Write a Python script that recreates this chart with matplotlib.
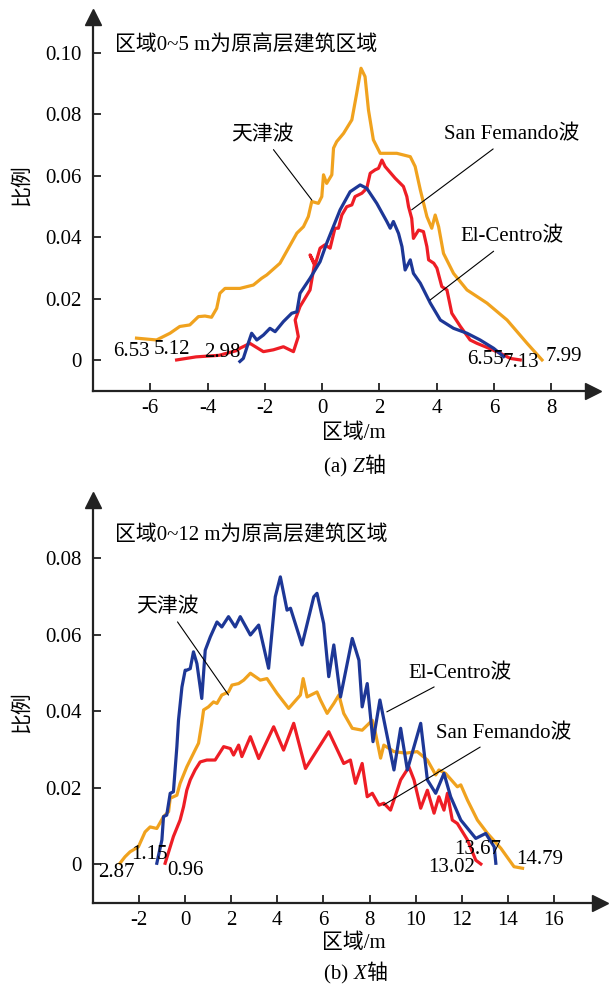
import matplotlib
matplotlib.use("Agg")
import matplotlib.pyplot as plt

plt.rcParams['font.family'] = ['Liberation Serif', 'Noto Sans CJK SC']
plt.rcParams['axes.unicode_minus'] = False

ORANGE = '#F0A21E'
RED = '#EE1D25'
BLUE = '#1D3796'

# ---- (a) Z axis ----
z_tj_x = [-6.48, -5.78, -5.31, -4.97, -4.62, -4.32, -4.09, -3.86, -3.68, -3.57, -3.39, -2.87, -2.40, -2.11,
          -1.93, -1.47, -0.88, -0.65, -0.48, -0.36, -0.13, -0.01, 0.05, 0.16, 0.34, 0.40, 0.51, 0.75, 1.04,
          1.21, 1.36, 1.50, 1.62, 1.79, 2.03, 2.61, 3.08, 3.25, 3.43, 3.66, 3.83, 3.95, 4.07, 4.24, 4.59,
          5.06, 5.76, 6.46, 7.16, 7.68]
z_tj_y = [.0071, .0065, .0087, .0109, .0114, .0141, .0143, .0139, .0168, .0217, .0233, .0233, .0244, .0266,
          .0277, .0315, .0413, .0434, .0467, .0516, .0510, .0532, .0603, .0575, .0603, .0690, .0711, .0738,
          .0782, .0869, .0950, .0923, .0814, .0717, .0673, .0673, .0662, .0630, .0554, .0467, .0429, .0472,
          .0434, .0347, .0282, .0228, .0185, .0130, .0054, .0]

z_sf_x = [-5.08, -4.4, -3.6, -3.0, -2.87, -2.52, -2.05, -1.70, -1.35, -1.00, -0.83, -0.94, -0.77, -0.42,
          -0.32, -0.27, -0.42, -0.24, -0.07, 0.10, 0.28, 0.45, 0.57, 0.69, 0.86, 1.04, 1.15, 1.39, 1.56,
          1.68, 1.85, 1.97, 2.09, 2.20, 2.55, 2.84, 2.96, 3.02, 3.13, 3.19, 3.37, 3.54, 3.66, 3.72, 3.90,
          4.01, 4.18, 4.36, 4.53, 4.83, 5.17, 5.41, 5.70, 6.22, 6.57, 6.92]
z_sf_y = [0, .0010, .0015, .0030, .0038, .0054, .0027, .0033, .0043, .0027, .0076, .0130, .0174, .0228,
          .0282, .0310, .0342, .0310, .0364, .0375, .0364, .0429, .0429, .0472, .0499, .0505, .0532, .0543,
          .0559, .0608, .0619, .0624, .0651, .0630, .0592, .0565, .0532, .0499, .0461, .0396, .0423, .0418,
          .0369, .0326, .0315, .0299, .0239, .0228, .0152, .0109, .0065, .0054, .0043, .0022, .0005, 0]

z_ec_x = [-2.87, -2.75, -2.58, -2.46, -2.28, -2.05, -1.82, -1.64, -1.35, -1.06, -0.88, -0.77, -0.42, -0.07,
          0.16, 0.63, 0.98, 1.33, 1.56, 1.91, 2.26, 2.38, 2.49, 2.67, 2.79, 2.90, 3.08, 3.19, 3.43, 3.78,
          4.13, 4.59, 5.06, 5.52, 5.99, 6.34]
z_ec_y = [-.0005, .0005, .0054, .0087, .0065, .0081, .0103, .0092, .0125, .0152, .0157, .0217, .0266, .0320,
          .0380, .0489, .0548, .0570, .0559, .0510, .0451, .0429, .0451, .0412, .0369, .0293, .0326, .0282,
          .0250, .0185, .0130, .0103, .0087, .0065, .0038, .0011]

z_xticks = [-6, -4, -2, 0, 2, 4, 6, 8]
z_yticks = [0, 0.02, 0.04, 0.06, 0.08, 0.10]
z_yticklabels = ['0', '0.02', '0.04', '0.06', '0.08', '0.10']
z_end_labels = [('6.53', -6.67, 0.0026), ('5.12', -5.24, 0.0033), ('2.98', -3.49, 0.0023),
                ('6.55', 5.69, 0.0), ('7.13', 6.95, -0.0007), ('7.99', 8.45, 0.0010)]

# ---- (b) X axis ----
x_tj_x = [-2.83, -2.61, -2.39, -2.03, -1.74, -1.52, -1.23, -0.94, -0.72, -0.65, -0.36, -0.22, 0.07, 0.43,
          0.58, 0.72, 0.80, 1.01, 1.23, 1.38, 1.59, 1.88, 2.03, 2.32, 2.54, 2.83, 3.26, 3.55, 3.99, 4.49,
          5.00, 5.12, 5.29, 5.72, 5.87, 6.16, 6.45, 6.67, 6.88, 7.25, 7.68, 8.12, 8.26, 8.48, 8.62, 9.06,
          9.57, 10.07, 10.51, 10.87, 11.01, 11.30, 11.81, 11.96, 12.25, 12.68, 13.12, 13.70, 14.27, 14.64]
x_tj_y = [.0002, .0019, .0032, .0045, .0084, .0097, .0093, .0124, .0137, .0172, .0180, .0211, .0254, .0298,
          .0316, .0368, .0403, .0411, .0424, .0420, .0442, .0450, .0468, .0472, .0481, .0499, .0481, .0485,
          .0446, .0407, .0442, .0485, .0437, .0450, .0429, .0394, .0420, .0442, .0394, .0355, .0350, .0376,
          .0342, .0277, .0311, .0294, .0290, .0294, .0272, .0233, .0246, .0237, .0202, .0207, .0167, .0115,
          .0080, .0041, -.0007, -.0011]

x_ec_x = [-1.23, -1.01, -0.94, -0.80, -0.65, -0.51, -0.36, -0.29, -0.14, 0.0, 0.07, 0.22, 0.36, 0.51, 0.72,
          0.87, 1.09, 1.38, 1.59, 1.88, 2.17, 2.39, 2.83, 3.19, 3.62, 3.91, 4.13, 4.42, 4.57, 5.07, 5.58,
          5.72, 6.01, 6.23, 6.45, 6.74, 7.25, 7.54, 7.68, 7.90, 8.15, 8.45, 9.06, 9.35, 9.64, 10.22, 10.51,
          10.87, 11.23, 11.52, 11.96, 12.61, 13.04, 13.41, 13.48]
x_ec_y = [.0002, .0063, .0124, .0128, .0185, .0189, .0307, .0376, .0463, .0507, .0507, .0511, .0555, .0524,
          .0433, .0559, .0594, .0633, .0620, .0647, .0620, .0647, .0599, .0625, .0512, .0699, .0751, .0664,
          .0669, .0573, .0699, .0708, .0629, .0490, .0573, .0437, .0590, .0533, .0411, .0472, .0320, .0429,
          .0246, .0355, .0246, .0368, .0220, .0185, .0237, .0176, .0115, .0067, .0080, .0045, .0002]

x_sf_x = [-0.87, -0.51, -0.22, -0.07, 0.07, 0.22, 0.43, 0.65, 0.94, 1.30, 1.67, 1.96, 2.10, 2.32, 2.46, 2.83,
          3.19, 3.84, 4.27, 4.71, 5.22, 6.23, 6.88, 7.17, 7.39, 7.68, 7.90, 8.12, 8.41, 8.62, 8.91, 9.35,
          9.71, 9.93, 10.22, 10.51, 10.80, 11.01, 11.23, 11.38, 11.59, 11.81, 12.25, 12.61, 12.83]
x_sf_y = [.0002, .0072, .0115, .0150, .0193, .0220, .0246, .0267, .0272, .0272, .0307, .0302, .0285, .0311,
          .0281, .0333, .0276, .0359, .0298, .0368, .0250, .0346, .0263, .0272, .0211, .0263, .0176, .0185,
          .0154, .0159, .0141, .0220, .0254, .0220, .0146, .0193, .0133, .0176, .0141, .0185, .0115, .0106,
          .0063, .0010, 0]

x_xticks = [-2, 0, 2, 4, 6, 8, 10, 12, 14, 16]
x_yticks = [0, 0.02, 0.04, 0.06, 0.08]
x_yticklabels = ['0', '0.02', '0.04', '0.06', '0.08']
x_end_labels = [('2.87', -2.99, -0.0021), ('1.15', -1.56, 0.0026), ('0.96', 0.0, -0.0016),
                ('13.67', 12.71, 0.0039), ('13.02', 11.54, -0.0010), ('14.79', 15.40, 0.0013)]

FS = 15

fig = plt.figure(figsize=(6.15, 9.88), dpi=100)
ax1 = fig.add_axes([0.1512, 0.6043, 0.8130, 0.3785])
ax2 = fig.add_axes([0.1512, 0.0860, 0.8244, 0.4079])


def style(ax, xlim, ylim, xticks, yticks, ylabels):
    ax.set_xlim(*xlim)
    ax.set_ylim(*ylim)
    for s in ['top', 'right']:
        ax.spines[s].set_visible(False)
    for s in ['left', 'bottom']:
        ax.spines[s].set_linewidth(1.6)
        ax.spines[s].set_color('#222222')
    ax.set_xticks(xticks)
    ax.set_xticklabels([str(t) for t in xticks])
    ax.set_yticks(yticks)
    ax.set_yticklabels(ylabels)
    ax.tick_params(direction='in', length=6, width=1.3, labelsize=FS, pad=6, colors='#222222')
    ax.tick_params(axis='x', labelcolor='black')
    ax.tick_params(axis='y', labelcolor='black', pad=8)
    ax.plot(1, 0, '>', color='#222222', ms=11, transform=ax.transAxes, clip_on=False)
    ax.plot(0, 1, '^', color='#222222', ms=11, transform=ax.transAxes, clip_on=False)


lw = 2.3
ax1.plot(z_tj_x, z_tj_y, color=ORANGE, lw=lw, solid_joinstyle='round')
ax1.plot(z_sf_x, z_sf_y, color=RED, lw=lw, solid_joinstyle='round')
ax1.plot(z_ec_x, z_ec_y, color=BLUE, lw=lw, solid_joinstyle='round')
style(ax1, (-8.0, 9.46), (-0.0101, 0.1117), z_xticks, z_yticks, z_yticklabels)

ax1.text(-7.23, 0.1026, '区域0~5 m为原高层建筑区域', fontsize=FS, va='center', ha='left')
ax1.annotate('天津波', xy=(-0.36, 0.0521), xytext=(-2.09, 0.0733), fontsize=FS, ha='center', va='center',
             arrowprops=dict(arrowstyle='-', lw=0.8, color='black', shrinkA=2, shrinkB=0))
ax1.annotate('San Femando波', xy=(3.13, 0.0489), xytext=(6.63, 0.0733), fontsize=FS, ha='center', va='center',
             arrowprops=dict(arrowstyle='-', lw=0.8, color='black', shrinkA=2, shrinkB=0))
ax1.annotate('El-Centro波', xy=(3.77, 0.0195), xytext=(6.63, 0.0400), fontsize=FS, ha='center', va='center',
             arrowprops=dict(arrowstyle='-', lw=0.8, color='black', shrinkA=2, shrinkB=0))
for s, x, y in z_end_labels:
    ax1.text(x, y, s, fontsize=FS, ha='center', va='center')

ax2.plot(x_tj_x, x_tj_y, color=ORANGE, lw=lw, solid_joinstyle='round')
ax2.plot(x_sf_x, x_sf_y, color=RED, lw=lw, solid_joinstyle='round')
ax2.plot(x_ec_x, x_ec_y, color=BLUE, lw=lw, solid_joinstyle='round')
style(ax2, (-4.0, 18.0), (-0.0102, 0.0952), x_xticks, x_yticks, x_yticklabels)

ax2.text(-3.04, 0.0860, '区域0~12 m为原高层建筑区域', fontsize=FS, va='center', ha='left')
ax2.annotate('天津波', xy=(1.88, 0.0442), xytext=(-0.78, 0.0672), fontsize=FS, ha='center', va='center',
             arrowprops=dict(arrowstyle='-', lw=0.8, color='black', shrinkA=2, shrinkB=0))
ax2.annotate('El-Centro波', xy=(8.75, 0.0398), xytext=(11.93, 0.0499), fontsize=FS, ha='center', va='center',
             arrowprops=dict(arrowstyle='-', lw=0.8, color='black', shrinkA=2, shrinkB=0))
ax2.annotate('San Femando波', xy=(8.60, 0.0154), xytext=(13.80, 0.0342), fontsize=FS, ha='center', va='center',
             arrowprops=dict(arrowstyle='-', lw=0.8, color='black', shrinkA=2, shrinkB=0))
for s, x, y in x_end_labels:
    ax2.text(x, y, s, fontsize=FS, ha='center', va='center')

# axis titles and captions
fig.text(22 / 615, 1 - 185 / 988, '比例', rotation=90, fontsize=FS, ha='center', va='center')
fig.text(22 / 615, 1 - 712 / 988, '比例', rotation=90, fontsize=FS, ha='center', va='center')
fig.text(354 / 615, 1 - 433 / 988, '区域/m', fontsize=FS, ha='center', va='center')
fig.text(354 / 615, 1 - 943 / 988, '区域/m', fontsize=FS, ha='center', va='center')


def caption(x, y, pre, it):
    t1 = fig.text(x, y, pre, fontsize=FS, ha='left', va='baseline')
    t2 = fig.text(0, 0, it, fontsize=FS, style='italic', ha='left', va='baseline')
    t3 = fig.text(0, 0, '轴', fontsize=FS, ha='left', va='baseline')
    fig.canvas.draw()
    r = fig.canvas.get_renderer()
    inv = fig.transFigure.inverted()
    b1 = t1.get_window_extent(r)
    x2 = inv.transform((b1.x1, 0))[0]
    t2.set_position((x2, y))
    b2 = t2.get_window_extent(r)
    x3 = inv.transform((b2.x1, 0))[0]
    t3.set_position((x3, y))


caption(324 / 615, 1 - 472 / 988, '(a) ', 'Z')
caption(324 / 615, 1 - 979 / 988, '(b) ', 'X')

fig.savefig('out.png', dpi=100)
